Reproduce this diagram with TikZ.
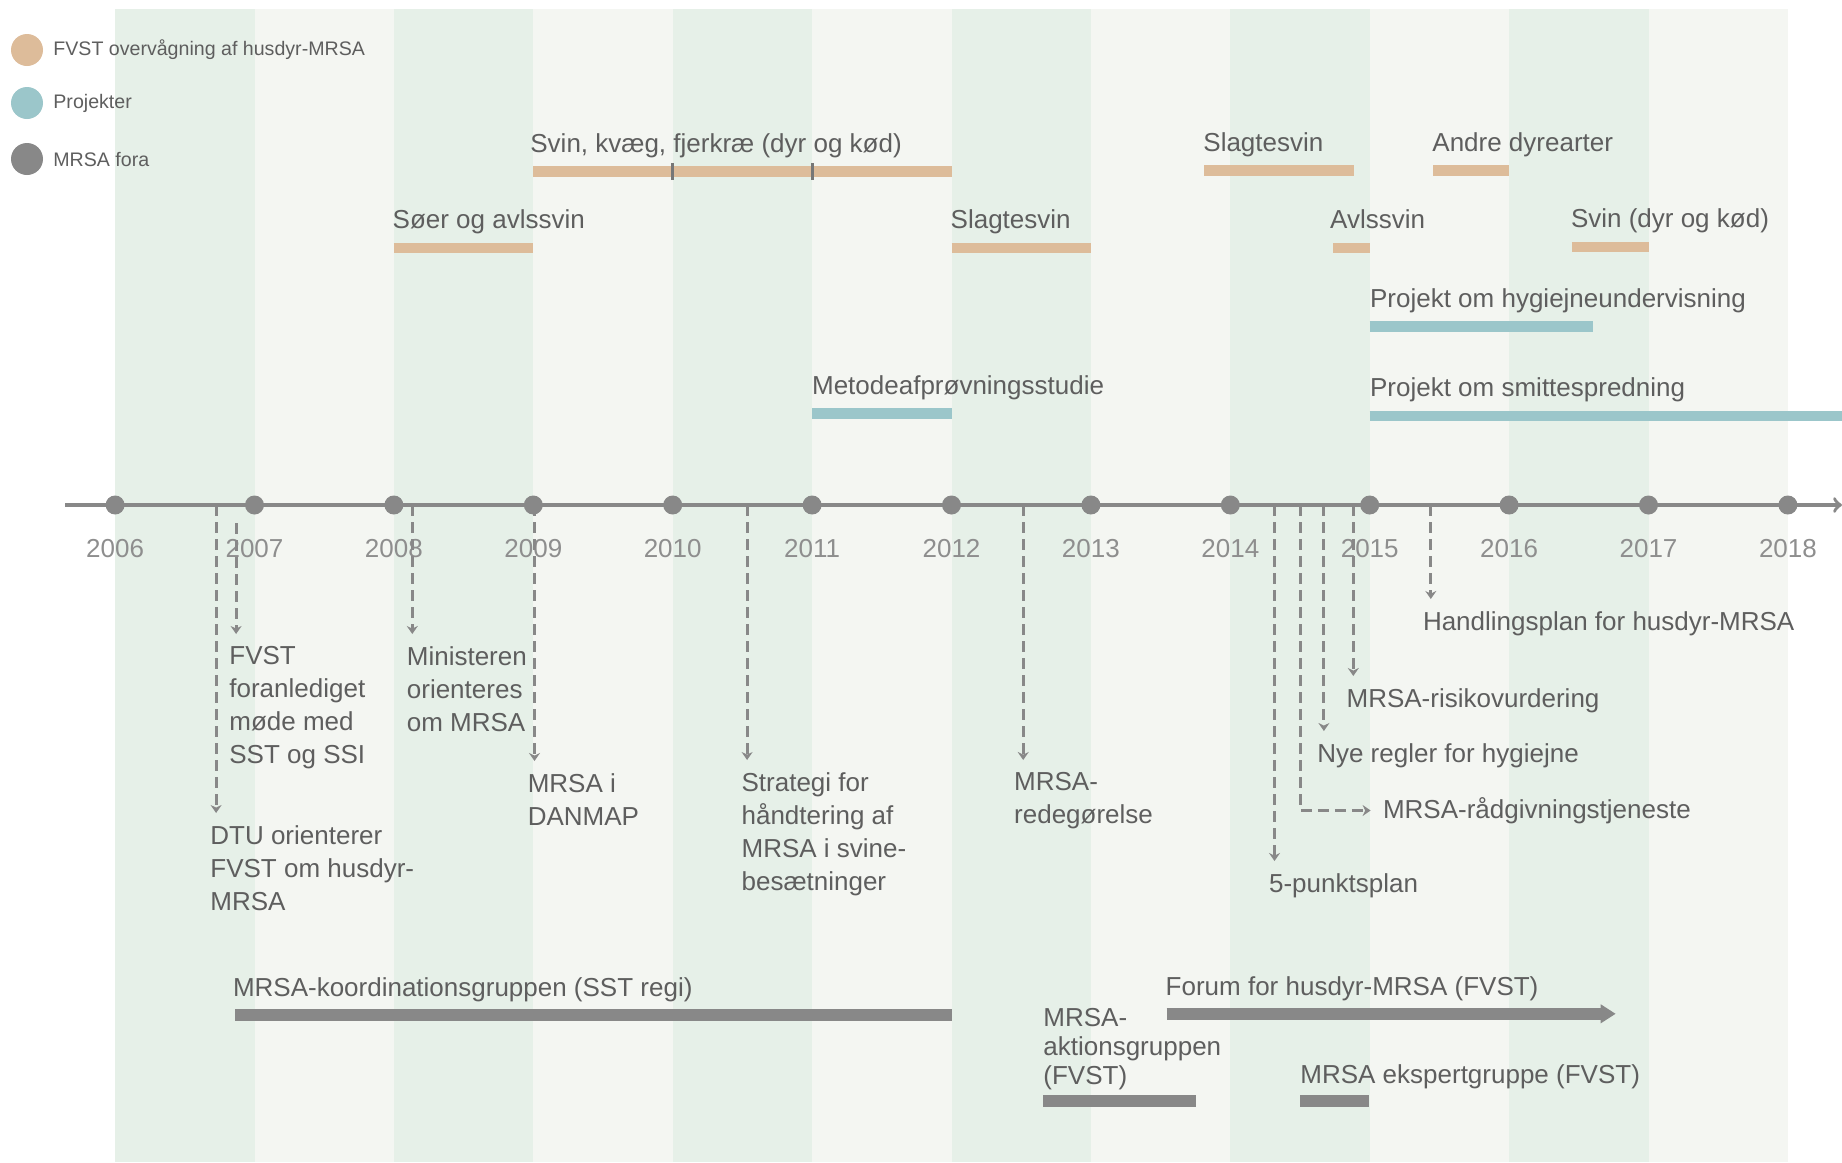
\documentclass[tikz,border=0pt]{standalone}
\usepackage{fontspec}
\setmainfont{Liberation Sans}
\usetikzlibrary{arrows,arrows.meta,calc}

\definecolor{stripegreen}{HTML}{E6F0E8}
\definecolor{stripelight}{HTML}{F4F6F2}
\definecolor{fvsttan}{HTML}{DDBC9A}
\definecolor{projteal}{HTML}{9BC6CA}
\definecolor{foragray}{HTML}{888888}
\definecolor{tickgray}{HTML}{777777}
\definecolor{txtgray}{HTML}{5E5E5E}
\definecolor{yeargray}{HTML}{8E8E8E}

\tikzset{
  lbl/.style={anchor=base west, inner sep=0pt, text=txtgray, font=\fontsize{13}{16.5}\selectfont},
  evlbl/.style={anchor=north west, inner sep=0pt, align=left, text=txtgray, font=\fontsize{13}{16.5}\selectfont},
  leglbl/.style={anchor=west, inner sep=0pt, text=txtgray, font=\fontsize{9.8}{12}\selectfont},
  yearlbl/.style={inner sep=0pt, text=yeargray, font=\fontsize{13}{16}\selectfont},
  yeardot/.style={circle, fill=foragray, inner sep=0pt, minimum size=9.5pt},
  legdot/.style={circle, inner sep=0pt, minimum size=16pt},
  fvstbar/.style={draw=fvsttan, line width=5.2pt},
  projbar/.style={draw=projteal, line width=5.2pt},
  forabar/.style={draw=foragray, line width=6pt},
  evarrow/.style={draw=foragray, line width=1.5pt, dash pattern=on 5.5pt off 3pt, -{Stealth[length=4pt,width=5.5pt]}, shorten >=6pt},
}

\begin{document}
\begin{tikzpicture}[x=0.5pt,y=-0.5pt,>=latex]
\useasboundingbox (0,0) rectangle (1842,1162);

\foreach \i in {0,...,11} {
  \ifodd\i \def\stripecol{stripelight}\else \def\stripecol{stripegreen}\fi
  \fill[\stripecol] (115.1+139.4*\i,9.4) rectangle (254.5+139.4*\i,1162);
}

\node[legdot, fill=fvsttan] (leg1) at (27,50) {};
\node[legdot, fill=projteal] (leg2) at (27,103) {};
\node[legdot, fill=foragray] (leg3) at (27,159) {};
\node[leglbl] (leg1t) at (53,50) {FVST overvågning af husdyr-MRSA};
\node[leglbl] (leg2t) at (53,103) {Projekter};
\node[leglbl] (leg3t) at (53,159) {MRSA fora};

\draw[fvstbar] (533.3,171.5) -- (951.5,171.5);
\draw[tickgray, line width=1.6pt] (672.7,163) -- (672.7,180);
\draw[tickgray, line width=1.6pt] (812.1,163) -- (812.1,180);
\node[lbl] (skf) at (530,152.5) {Svin, kvæg, fjerkræ (dyr og kød)};
\draw[fvstbar] (393.9,247.9) -- (533.3,247.9);
\node[lbl] (soeer) at (392.3,228.9) {Søer og avlssvin};
\draw[fvstbar] (951.5,247.9) -- (1090.9,247.9);
\node[lbl] (slagt1) at (950.3,228.9) {Slagtesvin};
\draw[fvstbar] (1204,170.3) -- (1354.4,170.3);
\node[lbl] (slagt2) at (1203,151.3) {Slagtesvin};
\draw[fvstbar] (1433,170.3) -- (1509.1,170.3);
\node[lbl] (andre) at (1432,151.3) {Andre dyrearter};
\draw[fvstbar] (1333.3,247.9) -- (1369.7,247.9);
\node[lbl] (avl) at (1329.8,228.9) {Avlssvin};
\draw[fvstbar] (1571.8,246.7) -- (1648.5,246.7);
\node[lbl] (svin) at (1570.6,227.7) {Svin (dyr og kød)};

\draw[projbar] (812.1,413.5) -- (951.5,413.5);
\node[lbl] (metode) at (811.7,394.5) {Metodeafprøvningsstudie};
\draw[projbar] (1369.7,326.6) -- (1593,326.6);
\node[lbl] (hygiejne) at (1369.7,307.6) {Projekt om hygiejneundervisning};
\draw[projbar] (1369.7,415.8) -- (1842,415.8);
\node[lbl] (smitte) at (1369.7,396.8) {Projekt om smittespredning};

\coordinate (axs) at (65,505);
\coordinate (axe) at (1842,505);
\draw[foragray, line width=1.75pt, -to] (axs) -- (axe);
\foreach \i in {0,...,12} {
  \pgfmathtruncatemacro{\yr}{2006+\i}
  \node[yeardot] (d\yr) at (115.1+139.4*\i,505) {};
  \node[yearlbl] (l\yr) at (115.1+139.4*\i,549) {\yr};
}

\coordinate (dtu-t) at (216.1,505);
\coordinate (fvm-t) at (236.1,523);
\coordinate (min-t) at (412.3,505);
\coordinate (danmap-t) at (534.5,505);
\coordinate (strat-t) at (747.1,505);
\coordinate (redeg-t) at (1023.2,505);
\coordinate (punkt-t) at (1274.5,505);
\coordinate (raad-t) at (1300.4,505);
\coordinate (nye-t) at (1323.9,505);
\coordinate (risiko-t) at (1353.3,505);
\coordinate (handl-t) at (1430.8,505);

\node[evlbl] (dtu) at (210,825) {DTU orienterer\\FVST om husdyr-\\MRSA};
\node[evlbl] (fvm) at (229,646) {FVST\\foranlediget\\møde med\\SST og SSI};
\node[evlbl] (min) at (406.5,646) {Ministeren\\orienteres\\om MRSA};
\node[evlbl] (danmap) at (527.4,773) {MRSA i\\DANMAP};
\node[evlbl] (strat) at (741.2,772) {Strategi for\\håndtering af\\MRSA i svine-\\besætninger};
\node[evlbl] (redeg) at (1013.8,772) {MRSA-\\redegørelse};
\node[evlbl] (punkt) at (1268.7,873) {5-punktsplan};
\node[evlbl, anchor=west] (raad) at (1382.6,810.5) {MRSA-rådgivningstjeneste};
\node[evlbl] (nye) at (1316.9,743) {Nye regler for hygiejne};
\node[evlbl] (risiko) at (1346.2,688) {MRSA-risikovurdering};
\node[evlbl] (handl) at (1422.6,611) {Handlingsplan for husdyr-MRSA};

\draw[evarrow] (dtu-t) -- (dtu-t |- dtu.north);
\draw[evarrow] (fvm-t) -- (fvm-t |- fvm.north);
\draw[evarrow] (min-t) -- (min-t |- min.north);
\draw[evarrow] (danmap-t) -- (danmap-t |- danmap.north);
\draw[evarrow] (strat-t) -- (strat-t |- strat.north);
\draw[evarrow] (redeg-t) -- (redeg-t |- redeg.north);
\draw[evarrow] (punkt-t) -- (punkt-t |- punkt.north);
\draw[evarrow] (raad-t) |- (raad.west);
\draw[evarrow] (nye-t) -- (nye-t |- nye.north);
\draw[evarrow] (risiko-t) -- (risiko-t |- risiko.north);
\draw[evarrow] (handl-t) -- (handl-t |- handl.north);

\draw[forabar] (235,1015) -- (951.5,1015);
\node[lbl] (koord) at (232.6,996) {MRSA-koordinationsgruppen (SST regi)};
\draw[forabar, -{Triangle[length=7.5pt,width=9pt]}] (1166.5,1013.8) -- (1615.7,1013.8);
\node[lbl] (forum) at (1165.3,995) {Forum for husdyr-MRSA (FVST)};
\draw[forabar] (1043,1100.7) -- (1196,1100.7);
\node[evlbl, font=\fontsize{13}{14.5}\selectfont] (aktion) at (1043,1008) {MRSA-\\aktionsgruppen\\(FVST)};
\draw[forabar] (1300.4,1100.7) -- (1368.5,1100.7);
\node[lbl] (ekspert) at (1300,1083) {MRSA ekspertgruppe (FVST)};

\end{tikzpicture}
\end{document}
